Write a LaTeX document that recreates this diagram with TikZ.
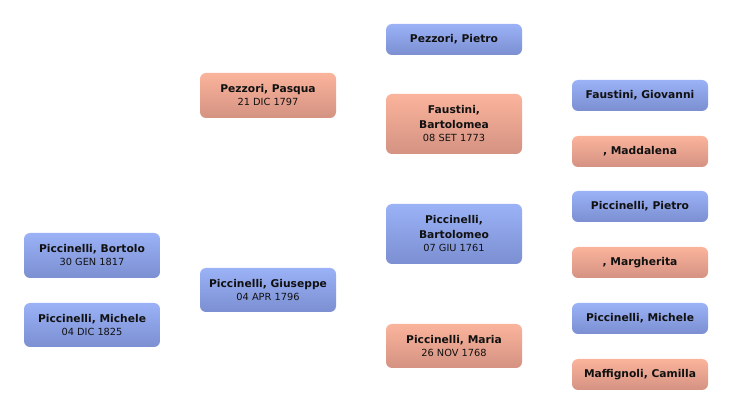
\documentclass[tikz,border=0pt]{standalone}
\usepackage{fontspec}
\setmainfont{DejaVu Sans}
\definecolor{bluetop}{HTML}{9BB2F7}
\definecolor{bluebot}{HTML}{7B8FD1}
\definecolor{saltop}{HTML}{FBB49C}
\definecolor{salbot}{HTML}{D49282}
\definecolor{txt}{HTML}{111111}
\newcommand{\datef}{\fontsize{9.8}{12}\selectfont\mdseries}
\tikzset{
  person/.style={rounded corners=6pt, inner sep=0pt, minimum width=136pt,
    align=center, text=txt, font=\fontsize{10.7}{15}\selectfont\bfseries},
  male/.style={person, top color=bluetop, bottom color=bluebot},
  female/.style={person, top color=saltop, bottom color=salbot},
}
\begin{document}
\begin{tikzpicture}[x=1pt,y=-1pt]
\useasboundingbox (0,0) rectangle (732,414);
% column 1
\node[male, minimum height=45pt] (bortolo) at (92,255.5) {Piccinelli, Bortolo\\[-2pt]{\datef 30 GEN 1817}};
\node[male, minimum height=44pt] (michele1) at (92,325) {Piccinelli, Michele\\[-2pt]{\datef 04 DIC 1825}};
% column 2
\node[female, minimum height=45pt] (pasqua) at (268,95.5) {Pezzori, Pasqua\\[-2pt]{\datef 21 DIC 1797}};
\node[male, minimum height=44pt] (giuseppe) at (268,290) {Piccinelli, Giuseppe\\[-2pt]{\datef 04 APR 1796}};
% column 3
\node[male, minimum height=31pt] (pietro1) at (454,39.5) {Pezzori, Pietro};
\node[female, minimum height=60pt] (bartolomea) at (454,124) {Faustini,\\Bartolomea\\[-2pt]{\datef 08 SET 1773}};
\node[male, minimum height=60pt] (bartolomeo) at (454,234) {Piccinelli,\\Bartolomeo\\[-2pt]{\datef 07 GIU 1761}};
\node[female, minimum height=44pt] (maria) at (454,346) {Piccinelli, Maria\\[-2pt]{\datef 26 NOV 1768}};
% column 4
\node[male, minimum height=31pt] (giovanni) at (640,95.5) {Faustini, Giovanni};
\node[female, minimum height=31pt] (maddalena) at (640,151.5) {, Maddalena};
\node[male, minimum height=31pt] (pietro2) at (640,206.5) {Piccinelli, Pietro};
\node[female, minimum height=31pt] (margherita) at (640,262.5) {, Margherita};
\node[male, minimum height=31pt] (michele2) at (640,318.5) {Piccinelli, Michele};
\node[female, minimum height=31pt] (camilla) at (640,374.5) {Maffignoli, Camilla};
\end{tikzpicture}
\end{document}
